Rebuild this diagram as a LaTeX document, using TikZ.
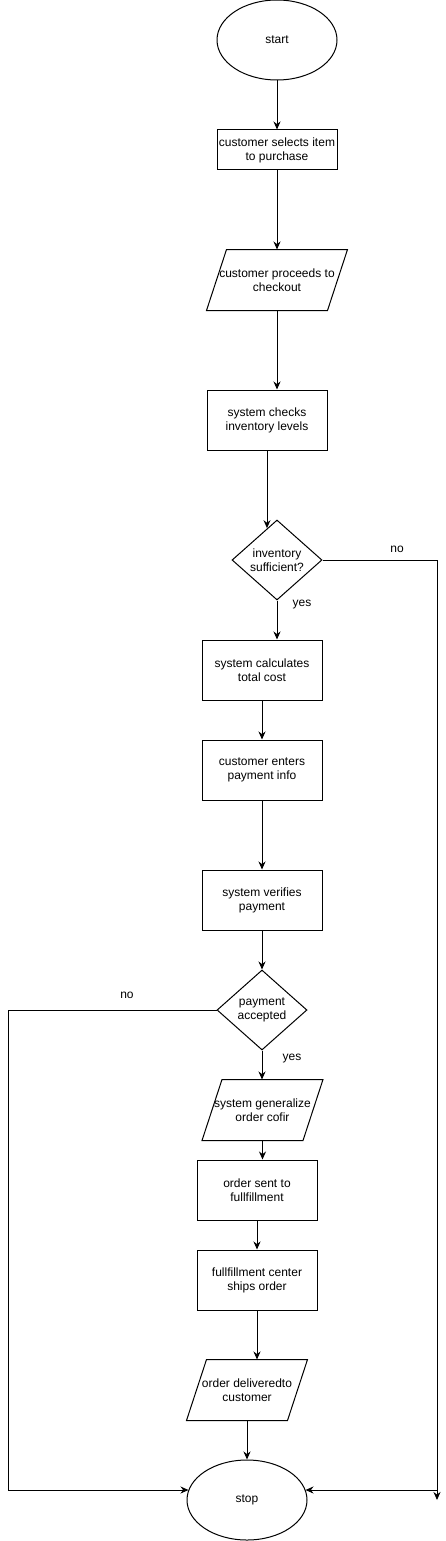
\documentclass[tikz,border=0pt]{standalone}
\usepackage{fontspec}
\setmainfont{Liberation Sans}
\usetikzlibrary{shapes.geometric,arrows.meta}
\begin{document}
\begin{tikzpicture}[x=1pt,y=-1pt,
  every node/.style={font=\fontsize{12}{14}\selectfont, align=center, line width=1pt},
  term/.style={draw, ellipse, minimum width=120pt, minimum height=80pt, inner sep=0pt},
  proc/.style={draw, rectangle, minimum width=120pt, minimum height=60pt, inner sep=0pt},
  proclow/.style={draw, rectangle, minimum width=120pt, minimum height=40pt, inner sep=0pt},
  dec/.style={draw, diamond, aspect=1.125, minimum width=90pt, minimum height=80pt, inner sep=0pt},
  iobody/.style={rectangle, minimum height=60pt, inner sep=0pt},
  iobox/.style={line width=1pt},
  lbl/.style={inner sep=0pt},
  arr/.style={line width=1pt, -{Stealth[length=8pt,width=7pt]}}
]
\useasboundingbox (0,0) rectangle (446,1541);
\fill[white] (0,0) rectangle (446,1541);

\node[term] (start) at (277,40) {start};
\node[proclow] (b1) at (277,150) {customer selects item\\to purchase};
\node[iobody, minimum width=120pt] (p1) at (277,280) {customer proceeds to\\checkout};
\node[proc] (b2) at (267,420) {system checks\\inventory levels};
\node[dec] (d1) at (277,560) {inventory\\sufficient?};
\node[proc] (b3) at (262,670) {system calculates\\total cost};
\node[proc] (b4) at (262,770) {customer enters\\payment info};
\node[proc] (b5) at (262,900) {system verifies\\payment};
\node[dec] (d2) at (262,1010) {payment\\accepted};
\node[iobody, minimum width=100pt] (p2) at (262.5,1110) {system generalize\\order cofir};
\node[proc] (b6) at (257,1190) {order sent to\\fullfillment};
\node[proc] (b7) at (257,1280) {fullfillment center\\ships order};
\node[iobody, minimum width=100pt] (p3) at (247,1390) {order deliveredto\\customer};
\node[term] (stop) at (247,1500) {stop};

\foreach \p in {p1,p2,p3}{
  \draw[iobox] ([xshift=-10pt]\p.south west) -- ([xshift=-10pt]\p.south east)
     -- ([xshift=10pt]\p.north east) -- ([xshift=10pt]\p.north west) -- cycle;
}

\node[lbl] (no1) at (397,549) {no};
\node[lbl] (yes1) at (302,605) {yes};
\node[lbl] (no2) at (127,995) {no};
\node[lbl] (yes2) at (292,1059) {yes};

\coordinate (rb) at (437,1500);
\coordinate (rj) at (437,1490);
\coordinate (lb) at (8,1490);

\draw[arr] (start.south) -- (b1.north);
\draw[arr] (b1.south) -- (p1.north);
\draw[arr] (p1.south) -- (p1.south |- b2.north);
\draw[arr] (b2.south) -- (b2.south |- d1.107);
\draw[arr] (d1.south) -- (d1.south |- b3.north);
\draw[arr] (d1.east) -| (rb);
\draw[arr] (rj) -- (stop.10 |- rj);
\draw[arr] (b3.south) -- (b4.north);
\draw[arr] (b4.south) -- (b5.north);
\draw[arr] (b5.south) -- (d2.north);
\draw[arr] (d2.west) -| (lb) -- (stop.170 |- lb);
\draw[arr] (d2.south) -- (d2.south |- p2.north);
\draw[arr] (p2.south) -- (p2.south |- b6.north);
\draw[arr] (b6.south) -- (b7.north);
\draw[arr] (b7.south) -- (b7.south |- p3.north);
\draw[arr] (p3.south) -- (stop.north);
\end{tikzpicture}
\end{document}
